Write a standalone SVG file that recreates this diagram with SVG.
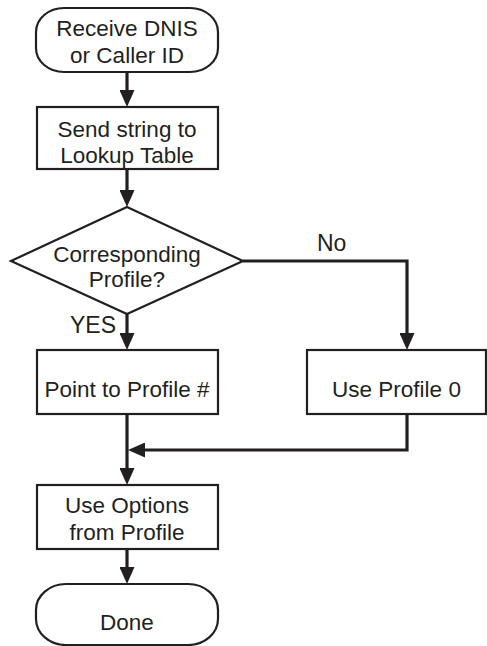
<svg xmlns="http://www.w3.org/2000/svg" width="487" height="646" viewBox="0 0 487 646">
<style>
.shape{fill:#fff;stroke:#231f20;stroke-width:2.2}
.t{font-family:"Liberation Sans",Arial,sans-serif;font-size:22.5px;fill:#231f20;text-anchor:middle}
.lbl{font-family:"Liberation Sans",Arial,sans-serif;font-size:23px;fill:#231f20}
.c{fill:none;stroke:#231f20;stroke-width:3.2}
</style>
<defs>
<marker id="ah" viewBox="0 0 17 15" markerWidth="17" markerHeight="15" refX="11" refY="7.5" orient="auto" markerUnits="userSpaceOnUse">
<path d="M0,0 L17,7.5 L0,15 z" fill="#231f20"/>
</marker>
</defs>
<g id="connectors">
<path class="c" d="M127,72 V101" marker-end="url(#ah)"/>
<path class="c" d="M127,169 V201" marker-end="url(#ah)"/>
<path class="c" d="M127,314 V344" marker-end="url(#ah)"/>
<path class="c" d="M243,261 H407 V344" marker-end="url(#ah)"/>
<path class="c" d="M127,414 V479" marker-end="url(#ah)"/>
<path class="c" d="M407,414 V450 H134" marker-end="url(#ah)"/>
<path class="c" d="M127,549 V578" marker-end="url(#ah)"/>
<text class="lbl" x="317" y="251">No</text>
<text class="lbl" x="70" y="333">YES</text>
</g>
<g id="start">
<rect class="shape" x="36" y="8" width="182" height="64" rx="28" ry="24"/>
<text class="t" x="127" y="36">Receive DNIS</text>
<text class="t" x="127" y="63">or Caller ID</text>
</g>
<g id="send">
<rect class="shape" x="37" y="107" width="181" height="62"/>
<text class="t" x="127" y="137">Send string to</text>
<text class="t" x="127" y="163">Lookup Table</text>
</g>
<g id="decision">
<polygon class="shape" points="127,207 243,261 127,314 11,261"/>
<text class="t" x="127" y="262">Corresponding</text>
<text class="t" x="127" y="287">Profile?</text>
</g>
<g id="point">
<rect class="shape" x="37" y="350" width="181" height="64"/>
<text class="t" x="127" y="397">Point to Profile #</text>
</g>
<g id="profile0">
<rect class="shape" x="307" y="350" width="179" height="64"/>
<text class="t" x="396.5" y="397">Use Profile 0</text>
</g>
<g id="options">
<rect class="shape" x="37" y="485" width="181" height="64"/>
<text class="t" x="127" y="513">Use Options</text>
<text class="t" x="127" y="540">from Profile</text>
</g>
<g id="done">
<rect class="shape" x="36" y="584" width="182" height="61" rx="30" ry="26"/>
<text class="t" x="127" y="630">Done</text>
</g>
</svg>
